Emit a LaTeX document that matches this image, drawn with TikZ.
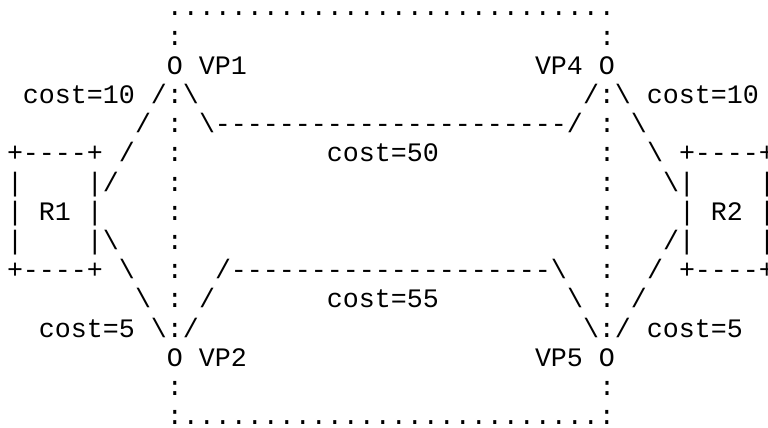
\documentclass[tikz,border=0pt]{standalone}
\usepackage{fontspec}
\setmonofont{Liberation Mono}
\newcommand\dashrun[1]{\foreach\k in {1,...,#1}{-}}
\newcommand\dotrun[1]{\foreach\k in {1,...,#1}{.}}
\tikzset{asc/.style={inner sep=0pt, outer sep=0pt, anchor=base west,
    font=\fontsize{13.33pt}{14.6pt}\selectfont\ttfamily}}

\begin{document}
\begin{tikzpicture}[x=8pt, y=-14.6pt]
        \fill[white] (-3.5pt,8pt) rectangle (380.5pt,-206pt);
        \useasboundingbox (-3.5pt,8pt) rectangle (380.5pt,-206pt);
        % dotted outline with the colon sides
        \node[asc] (topdots) at (10,0) {\dotrun{28}};
        \foreach \r in {1,4,5,6,7,8,9,10,13} {
          \node[asc] (cl\r) at (10,\r) {:};
          \node[asc] (cr\r) at (37,\r) {:};
        }
        \node[asc] (botdots) at (10,14) {:\dotrun{26}:};
        % virtual points
        \node[asc] (vp1) at (10,2) {O VP1};
        \node[asc] (vp4) at (33,2) {VP4 O};
        \node[asc] (vp2) at (10,12) {O VP2};
        \node[asc] (vp5) at (33,12) {VP5 O};
        % upper legs
        \node[asc] (costl10) at (1,3) {cost=10 /:\textbackslash};
        \node[asc] (costr10) at (36,3) {/:\textbackslash{} cost=10};
        \node[asc] (la4) at (8,4) {/};
        \node[asc] (link50) at (12,4) {\textbackslash\dashrun{22}/};
        \node[asc] (ra4) at (39,4) {\textbackslash};
        \node[asc] (la5) at (7,5) {/};
        \node[asc] (cost50) at (20,5) {cost=50};
        \node[asc] (ra5) at (40,5) {\textbackslash};
        % routers
        \node[asc] (r1top) at (0,5) {+\dashrun{4}+};
        \node[asc] (r1l6) at (0,6) {|};
        \node[asc] (r1r6) at (5,6) {|/};
        \node[asc] (r1l7) at (0,7) {|};
        \node[asc] (r1) at (2,7) {R1};
        \node[asc] (r1r7) at (5,7) {|};
        \node[asc] (r1l8) at (0,8) {|};
        \node[asc] (r1r8) at (5,8) {|\textbackslash};
        \node[asc] (r1bot) at (0,9) {+\dashrun{4}+};
        \node[asc] (r2top) at (42,5) {+\dashrun{4}+};
        \node[asc] (r2l6) at (41,6) {\textbackslash|};
        \node[asc] (r2r6) at (47,6) {|};
        \node[asc] (r2l7) at (42,7) {|};
        \node[asc] (r2) at (44,7) {R2};
        \node[asc] (r2r7) at (47,7) {|};
        \node[asc] (r2l8) at (41,8) {/|};
        \node[asc] (r2r8) at (47,8) {|};
        \node[asc] (r2bot) at (42,9) {+\dashrun{4}+};
        % lower legs
        \node[asc] (la9) at (7,9) {\textbackslash};
        \node[asc] (link55) at (13,9) {/\dashrun{20}\textbackslash};
        \node[asc] (ra9) at (40,9) {/};
        \node[asc] (la10) at (8,10) {\textbackslash};
        \node[asc] (lb10) at (12,10) {/};
        \node[asc] (cost55) at (20,10) {cost=55};
        \node[asc] (rb10) at (35,10) {\textbackslash};
        \node[asc] (ra10) at (39,10) {/};
        \node[asc] (costl5) at (2,11) {cost=5 \textbackslash:/};
        \node[asc] (costr5) at (36,11) {\textbackslash:/ cost=5};
      \end{tikzpicture}
\end{document}
